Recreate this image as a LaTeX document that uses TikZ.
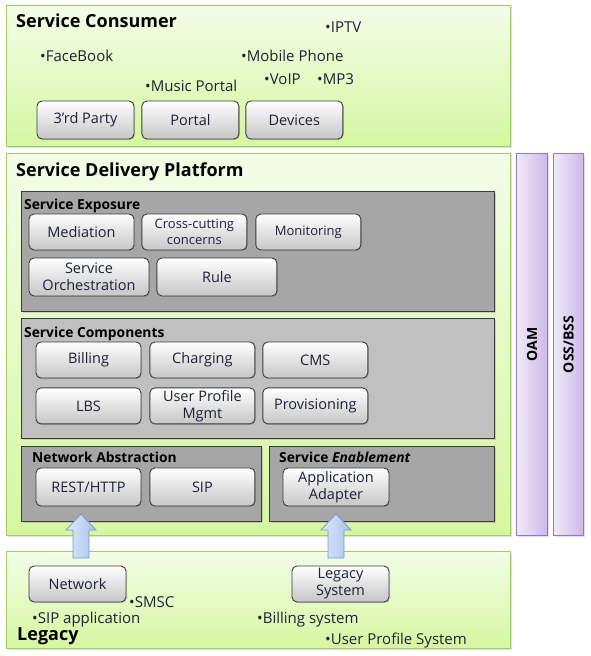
\documentclass[tikz,border=0pt]{standalone}
\usepackage{fontspec}
\setmainfont{Open Sans}
\usepackage{xcolor}
\usepackage{tikz}
\usetikzlibrary{positioning,shadows,calc}

\definecolor{greenline}{RGB}{160,204,110}
\definecolor{greentop}{RGB}{243,253,232}
\definecolor{greenbot}{RGB}{214,247,160}
\definecolor{grayfill}{RGB}{166,166,166}
\definecolor{grayfilllt}{RGB}{192,192,192}
\definecolor{grayline}{RGB}{58,58,58}
\definecolor{btnline}{RGB}{60,60,60}
\definecolor{btnbot}{RGB}{198,198,198}
\definecolor{purpleline}{RGB}{150,120,192}
\definecolor{purpleleft}{RGB}{240,234,250}
\definecolor{purpleright}{RGB}{204,184,232}
\definecolor{arrowline}{RGB}{118,154,210}
\definecolor{arrowleft}{RGB}{222,233,250}
\definecolor{arrowright}{RGB}{166,194,236}
\definecolor{txt}{RGB}{30,34,52}

\begin{document}
\begin{tikzpicture}[
  x=1pt, y=-1pt,
  node distance=7pt and 7pt,
  layer/.style={
    draw=greenline, line width=1pt, top color=greentop, bottom color=greenbot,
    anchor=north west, inner sep=0pt,
    drop shadow={shadow xshift=1.2pt, shadow yshift=-1.2pt, opacity=0.25}
  },
  group/.style={
    draw=grayline, line width=1pt, fill=grayfill, anchor=north west, inner sep=0pt,
    drop shadow={shadow xshift=1.5pt, shadow yshift=-1.5pt, opacity=0.3}
  },
  bar/.style={
    draw=purpleline, line width=1pt, left color=purpleleft, right color=purpleright,
    anchor=north west, inner sep=0pt, minimum width=31pt, minimum height=382pt,
    drop shadow={shadow xshift=1.2pt, shadow yshift=-1.2pt, opacity=0.25}
  },
  btn/.style={
    draw=btnline, line width=0.9pt, rounded corners=5pt,
    top color=white, bottom color=btnbot, text=txt, align=center, inner sep=1pt,
    font=\fontsize{14.5}{17}\selectfont,
    drop shadow={shadow xshift=1pt, shadow yshift=-1pt, opacity=0.35}
  },
  ttl/.style={anchor=west, inner sep=0pt, text height=12.9pt, text depth=0pt,
    font=\fontsize{18}{20}\selectfont\bfseries},
  subttl/.style={anchor=west, inner sep=0pt, text height=9.9pt, text depth=0pt,
    font=\fontsize{13.8}{15}\selectfont\bfseries},
  item/.style={anchor=west, inner sep=0pt, text height=10.7pt, text depth=0pt,
    text=txt, font=\fontsize{15}{17}\selectfont},
  sidelbl/.style={rotate=90, inner sep=0pt, font=\fontsize{14}{16}\selectfont\bfseries},
  fatarrow/.style={draw=arrowline, line width=0.8pt, left color=arrowleft,
    right color=arrowright, line join=miter}
]
\useasboundingbox (0,0) rectangle (590,656);

% Service consumer
\node[layer, minimum width=504pt, minimum height=141pt] (consumer) at (6,5) {};
\node[ttl] (consumerttl) at (16,21) {Service Consumer};
\node[item] (iptv) at (325,27) {•IPTV};
\node[item] (facebook) at (40,56) {•FaceBook};
\node[item] (mobile) at (241,56) {•Mobile Phone};
\node[item] (voip) at (264,79) {•VoIP};
\node[item] (mp3) at (317,79) {•MP3};
\node[item] (music) at (145,86) {•Music Portal};
\node[btn, minimum width=97pt, minimum height=38pt] (thirdparty) at (85.5,120) {3’rd Party};
\node[btn, minimum width=97pt, minimum height=38pt, right=of thirdparty] (portal) {Portal};
\node[btn, minimum width=97pt, minimum height=38pt, right=6pt of portal] (devices) {Devices};

% Service delivery platform
\node[layer, minimum width=504pt, minimum height=382pt] (sdp) at (6,153) {};
\node[ttl] (sdpttl) at (16,170) {Service Delivery Platform};

% Service exposure
\node[group, minimum width=473pt, minimum height=120pt] (exposure) at (21,191) {};
\node[subttl] (exposurettl) at (24,205) {Service Exposure};
\node[btn, minimum width=105pt, minimum height=36pt] (mediation) at (81.5,232) {Mediation};
\node[btn, minimum width=105pt, minimum height=36pt, right=of mediation,
  font=\fontsize{13}{16}\selectfont] (crosscut) {Cross-cutting\\concerns};
\node[btn, minimum width=105pt, minimum height=36pt, right=8pt of crosscut,
  font=\fontsize{13}{16}\selectfont] (monitoring) {Monitoring};
\node[btn, minimum width=120pt, minimum height=38pt] (orchestration) at (89,277) {Service\\Orchestration};
\node[btn, minimum width=120pt, minimum height=38pt, right=of orchestration] (rule) {Rule};

% Service components
\node[group, fill=grayfilllt, minimum width=473pt, minimum height=120pt] (components) at (21,318) {};
\node[subttl] (componentsttl) at (24,333) {Service Components};
\node[btn, minimum width=105pt, minimum height=36pt] (billing) at (88.5,360) {Billing};
\node[btn, minimum width=105pt, minimum height=36pt, right=8pt of billing] (charging) {Charging};
\node[btn, minimum width=105pt, minimum height=36pt, right=of charging] (cms) {CMS};
\node[btn, minimum width=105pt, minimum height=36pt, below=9pt of billing] (lbs) {LBS};
\node[btn, minimum width=105pt, minimum height=36pt, below=9pt of charging] (upmgmt) {User Profile\\Mgmt};
\node[btn, minimum width=105pt, minimum height=36pt, below=9pt of cms] (provisioning) {Provisioning};

% Network abstraction / service enablement
\node[group, minimum width=240pt, minimum height=75pt] (netabs) at (21,446) {};
\node[subttl] (netabsttl) at (32,458) {Network Abstraction};
\node[btn, minimum width=105pt, minimum height=38pt] (resthttp) at (88.5,487) {REST/HTTP};
\node[btn, minimum width=105pt, minimum height=38pt, right=8pt of resthttp] (sip) {SIP};
\node[group, minimum width=225pt, minimum height=75pt] (enable) at (269,446) {};
\node[subttl] (enablettl) at (279,458) {Service \textit{Enablement}};
\node[btn, minimum width=106pt, minimum height=38pt] (appadapter) at (336,487) {Application\\Adapter};

% Side bars
\node[bar] (oam) at (516,153) {};
\node[bar, minimum width=30pt] (ossbss) at (553,153) {};
\node[sidelbl] (oamlbl) at (oam.center) {OAM};
\node[sidelbl] (ossbsslbl) at (ossbss.center) {OSS/BSS};

% Legacy
\node[layer, minimum width=504pt, minimum height=97pt] (legacy) at (6,551) {};
\node[ttl] (legacyttl) at (17,634) {Legacy};
\node[btn, minimum width=97pt, minimum height=36pt] (network) at (77.5,584) {Network};
\node[btn, minimum width=97pt, minimum height=36pt] (legacysys) at (340.5,584) {Legacy\\System};
\node[item] (smsc) at (129,602) {•SMSC};
\node[item] (sipapp) at (32,618) {•SIP application};
\node[item] (billsys) at (257,618) {•Billing system};
\node[item] (upsys) at (325,639) {•User Profile System};

% Block arrows up
\foreach \ax/\tgt in {81/netabs, 336/enable}
  \draw[fatarrow] let \p1=(\tgt.south), \p2=(legacy.north) in
    (\ax pt-8pt,\y2-7pt) -- (\ax pt-8pt,\y1-8pt) -- (\ax pt-15pt,\y1-8pt)
    -- (\ax pt,\y1+8pt) -- (\ax pt+15pt,\y1-8pt) -- (\ax pt+8pt,\y1-8pt)
    -- (\ax pt+8pt,\y2-7pt) -- cycle;

\end{tikzpicture}
\end{document}
